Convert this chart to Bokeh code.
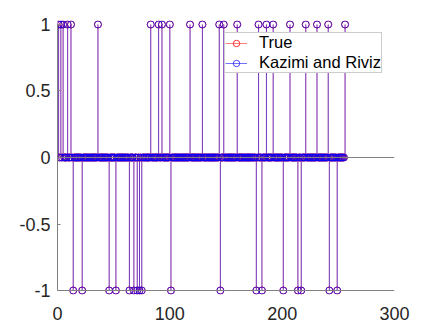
from bokeh.plotting import figure
from bokeh.models import Range1d, FixedTicker, Span, Legend, LegendItem, ColumnDataSource
from bokeh.embed import file_html
from bokeh.resources import INLINE

# ---- data ----
n_samples = 256
true_pos_idx = [1, 3, 5, 9, 12, 36, 83, 90, 93, 100, 118, 129, 144, 148, 160,
                179, 186, 192, 207, 221, 231, 241, 256]
true_neg_idx = [14, 22, 46, 52, 64, 68, 71, 73, 75, 101, 145, 177, 182, 201,
                214, 217, 242, 249]
est_pos_idx = list(true_pos_idx)
est_neg_idx = list(true_neg_idx)
x_ticks = [0, 100, 200, 300]
y_ticks = [-1, -0.5, 0, 0.5, 1]
y_tick_labels = {-1: "-1", -0.5: "-0.5", 0: "0", 0.5: "0.5", 1: "1"}
series_names = ["True", "Kazimi and Riviz"]

def build(pos, neg):
    vals = [0] * n_samples
    for i in pos:
        vals[i - 1] = 1
    for i in neg:
        vals[i - 1] = -1
    return vals

xs = list(range(1, n_samples + 1))
true_vals = build(true_pos_idx, true_neg_idx)
est_vals = build(est_pos_idx, est_neg_idx)

src_true = ColumnDataSource(dict(x=xs, y=true_vals, base=[0] * n_samples))
src_est = ColumnDataSource(dict(x=xs, y=est_vals, base=[0] * n_samples))

FONT = "Liberation Sans"
AX = "#808080"

p = figure(frame_width=337, frame_height=274, output_backend="svg",
           toolbar_location=None,
           x_range=Range1d(0, 300), y_range=Range1d(-1.03, 1.03),
           min_border_left=57, min_border_right=30, min_border_top=20,
           min_border_bottom=28)
p.outline_line_color = None
p.grid.visible = False
p.background_fill_color = "white"
p.border_fill_color = "white"

# axes
p.yaxis.ticker = FixedTicker(ticks=y_ticks)
p.yaxis.major_label_overrides = y_tick_labels
p.yaxis.bounds = (-1, 1)
p.yaxis.axis_line_color = AX
p.yaxis.major_tick_line_color = AX
p.yaxis.major_tick_in = 3
p.yaxis.major_tick_out = 0
p.yaxis.minor_tick_line_color = None
p.yaxis.major_label_standoff = 7

p.xaxis.ticker = FixedTicker(ticks=x_ticks)
p.xaxis.axis_line_color = None
p.xaxis.major_tick_line_color = None
p.xaxis.minor_tick_line_color = None
p.xaxis.major_label_standoff = 6

for ax in (p.xaxis, p.yaxis):
    ax.major_label_text_font = FONT
    ax.major_label_text_font_size = "18px"
    ax.major_label_text_color = "#262626"
    ax.major_label_text_font_style = "normal"

# x axis line at y=-1 and stem baseline at y=0
p.add_layout(Span(location=-1, dimension="width", line_color=AX, line_width=1))
p.add_layout(Span(location=0, dimension="width", line_color=AX, line_width=1))

# stems
r_seg_t = p.segment(x0="x", y0="base", x1="x", y1="y", source=src_true,
                    line_color="red", line_alpha=0.5, line_width=1)
r_seg_e = p.segment(x0="x", y0="base", x1="x", y1="y", source=src_est,
                    line_color="blue", line_alpha=0.55, line_width=1)
r_mk_t = p.scatter(x="x", y="y", source=src_true, marker="circle", size=7,
                   fill_color=None, line_color="red", line_alpha=0.8, line_width=1)
r_mk_e = p.scatter(x="x", y="y", source=src_est, marker="circle", size=7,
                   fill_color=None, line_color="blue", line_alpha=0.7, line_width=1)

legend = Legend(items=[
    LegendItem(label=series_names[0], renderers=[r_seg_t, r_mk_t]),
    LegendItem(label=series_names[1], renderers=[r_seg_e, r_mk_e]),
], location="top_right")
legend.margin = 12
legend.padding = 0
legend.spacing = 1
legend.glyph_width = 22
legend.glyph_height = 16
legend.label_height = 16
legend.label_standoff = 12
legend.label_text_font = FONT
legend.label_text_font_size = "16.5px"
legend.label_text_color = "black"
legend.border_line_color = "#999999"
legend.border_line_width = 1
legend.background_fill_color = "white"
legend.background_fill_alpha = 1
p.add_layout(legend)

open("out.html", "w").write(file_html(p, INLINE))
